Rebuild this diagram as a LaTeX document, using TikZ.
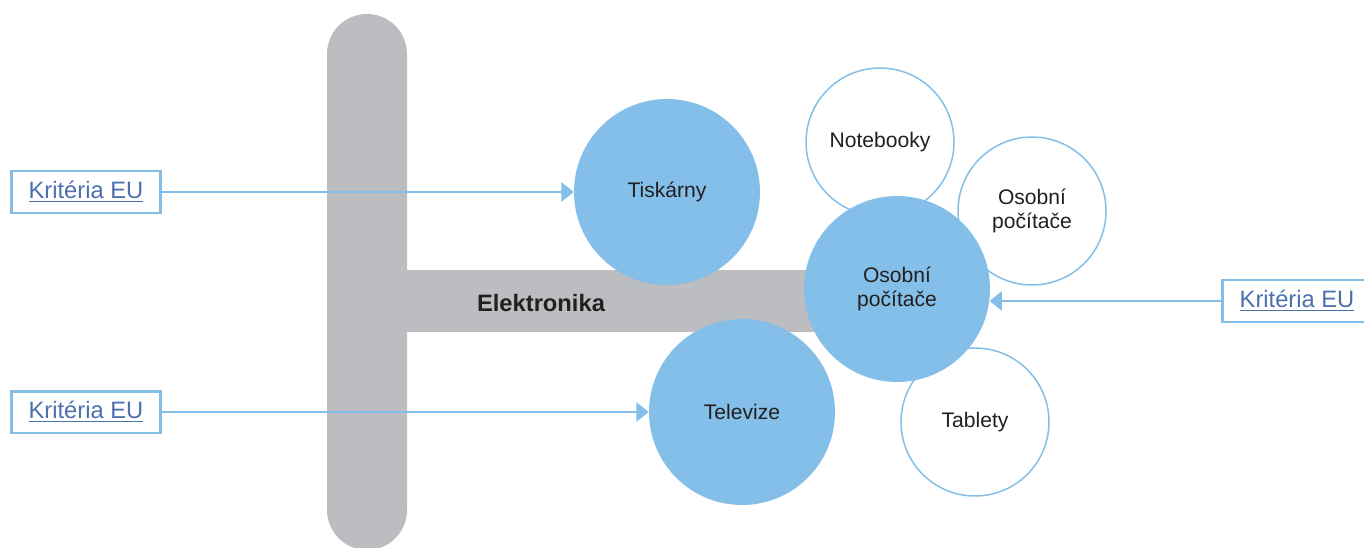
\documentclass[tikz,border=0pt]{standalone}
\usepackage{fontspec}
\setmainfont{Liberation Sans}
\usetikzlibrary{arrows.meta}
\definecolor{modra}{RGB}{131,191,232}
\definecolor{seda}{RGB}{188,189,192}
\definecolor{odkaz}{RGB}{77,111,172}
\definecolor{text}{RGB}{35,31,32}
\tikzset{bc/.append style={circle,fill=modra,minimum size=3.72cm,inner sep=0pt,text=text,font=\fontsize{12}{14}\selectfont,align=center}}
\tikzset{wc/.append style={circle,draw=modra,fill=white,line width=0.85pt,minimum size=2.96cm,inner sep=0pt,text=text,font=\fontsize{12}{14}\selectfont,align=center}}
\tikzset{kb/.append style={draw=modra,line width=1.7pt,minimum width=2.98cm,minimum height=0.84cm,inner sep=0pt,text=odkaz,font=\fontsize{13.5}{16}\selectfont}}
\tikzset{sip/.append style={draw=modra,line width=1.1pt,-{Triangle[length=7pt,width=11pt]}}}

\begin{document}
\begin{tikzpicture}[x=0.02cm,y=-0.02cm]
                \useasboundingbox (0,0) rectangle (1364,547);
                % sede pruhy
                \fill[seda,rounded corners=0.8cm] (327,14) rectangle (407,550);
                \fill[seda] (406,270) rectangle (840,332);
                \node[font=\fontsize{13.5}{16}\selectfont\bfseries,text=text] (el) at (541,303) {Elektronika};
                % bile kruhy
                \node[wc] (nb) at (880,142) {Notebooky};
                \node[wc] (pc2) at (1032,211) {Osobní\\počítače};
                \node[wc] (tab) at (975,422) {Tablety};
                % modre kruhy
                \node[bc] (tisk) at (667,192) {Tiskárny};
                \node[bc] (tv) at (742,412) {Televize};
                \node[bc] (pc) at (897,289) {Osobní\\počítače};
                % kriteria
                \node[kb] (k1) at (86,192) {\underline{Kritéria EU}};
                \node[kb] (k2) at (86,412) {\underline{Kritéria EU}};
                \node[kb] (k3) at (1297,301) {\underline{Kritéria EU}};
                \draw[sip] (k1) -- (tisk);
                \draw[sip] (k2) -- (tv);
                \draw[sip] (k3.west) -- (pc.-7.4 |- k3.west);
            \end{tikzpicture}
\end{document}
